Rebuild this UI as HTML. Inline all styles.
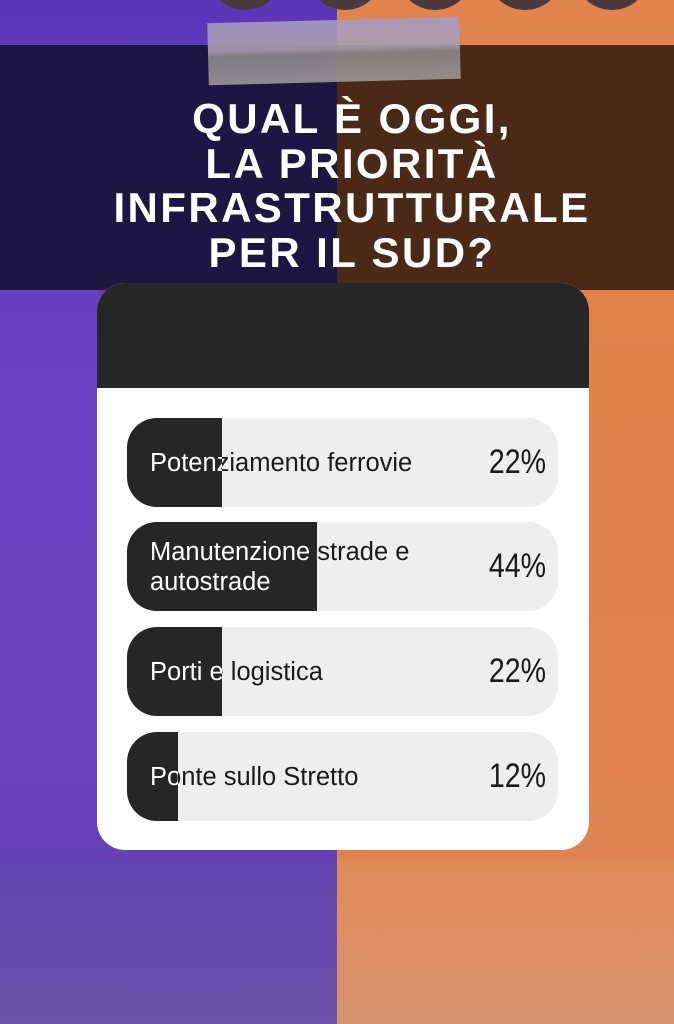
<!DOCTYPE html>
<html><head><meta charset="utf-8"><style>
*{margin:0;padding:0;box-sizing:border-box}
body{width:674px;height:1024px;position:relative;overflow:hidden;font-family:"Liberation Sans",sans-serif;background:#e0824e}
.abs{position:absolute}
.dot{position:absolute;top:-32px;width:76px;height:42px;border-radius:0 0 38px 38px;background:#4a3a3e}
.title{position:absolute;left:15px;width:674px;top:97px;text-align:center;color:#fff;font-weight:bold;font-size:42px;line-height:44.5px;letter-spacing:2.4px}
.card{position:absolute;left:97px;top:283px;width:492px;height:567px;background:#fff;border-radius:28px;overflow:hidden}
.hdr{position:absolute;left:0;top:0;width:100%;height:105px;background:#262626}
.bar{position:absolute;left:30px;width:431px;height:89px;border-radius:30px;background:#eeeeee;overflow:hidden}
.lbl{position:absolute;left:23px;top:0;height:89px;width:340px;display:flex;align-items:center;font-size:25.5px;line-height:30px;color:#1a1a1a;white-space:nowrap}
.fill{position:absolute;left:0;top:0;height:89px;background:#262626;overflow:hidden}
.fill .lbl{color:#fff}
.pct{position:absolute;right:12px;top:0;height:89px;display:flex;align-items:center;font-size:34px;color:#1a1a1a;transform:scaleX(0.84);transform-origin:right center}
</style></head><body>
<div class="abs" style="left:0;top:0;width:337px;height:1024px;background:linear-gradient(180deg,#5a36b8 0,#6a42c4 400px,#6d45c0 700px,#5f3cac 1024px)"></div>
<div class="abs" style="left:337px;top:0;width:337px;height:1024px;background:linear-gradient(180deg,#e2844e 0,#e0804c 500px,#de8552 1024px)"></div>
<div class="abs" style="left:0;top:45px;width:337px;height:245px;background:#1d1542"></div>
<div class="abs" style="left:337px;top:45px;width:337px;height:245px;background:#4a2916"></div>
<div class="abs" style="left:0;top:860px;width:337px;height:164px;background:linear-gradient(180deg,#6244b0,#6a52a8)"></div>
<div class="abs" style="left:337px;top:860px;width:337px;height:164px;background:linear-gradient(180deg,#e08a58,#d89470)"></div>
<div class="dot" style="left:207px"></div><div class="dot" style="left:307px"></div><div class="dot" style="left:397px"></div><div class="dot" style="left:487px"></div><div class="dot" style="left:574px"></div>
<div class="abs" style="left:208px;top:20px;width:252px;height:62px;background:linear-gradient(180deg,#a89ac0 0,#a8a0b0 45%,#8a8888 55%,#9a9898 100%);transform:rotate(-1.5deg);opacity:.9"></div>
<div class="title">QUAL È OGGI,<br>LA PRIORITÀ<br>INFRASTRUTTURALE<br>PER IL SUD?</div>
<div class="card">
<div class="hdr"></div>
<div class="bar" style="top:135px"><div class="lbl">Potenziamento ferrovie</div><div class="fill" style="width:95px"><div class="lbl">Potenziamento ferrovie</div></div><div class="pct">22%</div></div>
<div class="bar" style="top:239px"><div class="lbl">Manutenzione strade e<br>autostrade</div><div class="fill" style="width:190px"><div class="lbl">Manutenzione strade e<br>autostrade</div></div><div class="pct">44%</div></div>
<div class="bar" style="top:344px"><div class="lbl">Porti e logistica</div><div class="fill" style="width:95px"><div class="lbl">Porti e logistica</div></div><div class="pct">22%</div></div>
<div class="bar" style="top:449px"><div class="lbl">Ponte sullo Stretto</div><div class="fill" style="width:51px"><div class="lbl">Ponte sullo Stretto</div></div><div class="pct">12%</div></div>
</div>
</body></html>
